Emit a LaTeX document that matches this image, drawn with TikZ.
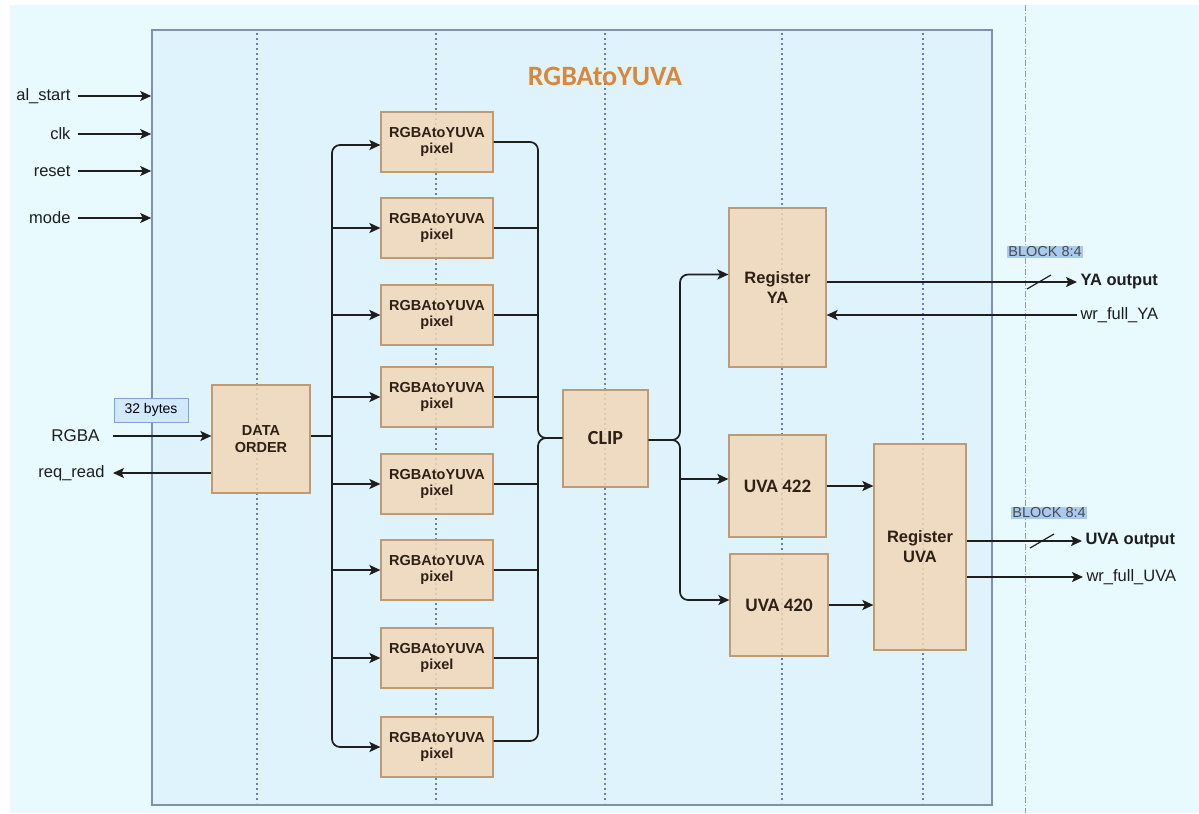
\documentclass[tikz,border=0pt]{standalone}
\usepackage{fontspec}
\setmainfont{Liberation Sans}
\newfontfamily\calibfont{Carlito}
\usetikzlibrary{arrows.meta}
\definecolor{pagebg}{HTML}{E8FAFD}
\definecolor{framefill}{HTML}{DEF3FC}
\definecolor{frameedge}{HTML}{8290AE}
\definecolor{gridink}{HTML}{6A7EB0}
\definecolor{boxfill}{HTML}{F3D6B9}
\definecolor{boxedge}{HTML}{BF9A74}
\definecolor{boxink}{HTML}{2E2015}
\definecolor{linkink}{HTML}{1E1E1E}
\definecolor{titleink}{HTML}{D9883A}
\definecolor{tagfill}{HTML}{D2E8FD}
\definecolor{tagedge}{HTML}{7FA3D4}
\definecolor{hilite}{HTML}{A9CAF0}

\begin{document}
\begin{tikzpicture}[x=1pt,y=-1pt,
  line/.style={draw=linkink,line width=1.7pt},
  arr/.style={line,-{Stealth[length=11pt,width=10pt,inset=2.5pt]}},
  blockbox/.style={draw=boxedge,fill=boxfill,fill opacity=.85,text opacity=1,
    line width=1.2pt,text=boxink,align=center,inner sep=0pt},
  pixbox/.style={blockbox,minimum width=112pt,minimum height=60pt,
    font=\fontsize{14.5}{15.5}\selectfont\bfseries},
  sig/.style={text=linkink,font=\fontsize{16.5}{18}\selectfont},
  gridline/.style={draw=gridink,line width=2pt,dash pattern=on 2pt off 3pt}]
        % page and frame
        \fill[white] (0,0) rectangle (1199,813);
        \fill[pagebg] (10,5) rectangle (1199,813);
        \draw[gridink!75,line width=1pt,dash pattern=on 6pt off 2pt on 1pt off 2pt]
          (1025,5) -- (1025,813);
        \node[draw=frameedge,fill=framefill,line width=1.6pt,minimum width=840pt,
          minimum height=775pt,inner sep=0pt] (frame) at (572,417.5) {};
        \foreach \x in {257,436,605,782,923}
          \draw[gridline] (\x,33) -- (\x,803);
        \node[text=titleink,font=\fontsize{28}{30}\calibfont\bfseries] (title) at (605,76) {RGBAtoYUVA};

        % blocks
        \node[blockbox,minimum width=98pt,minimum height=108pt,
          font=\fontsize{14.5}{17}\selectfont\bfseries] (order) at (261,439) {DATA\\ORDER};
        \foreach \i/\y in {1/142,2/228,3/315,4/397,5/484,6/570,7/658,8/747}
          \node[pixbox] (p\i) at (437,\y) {RGBAtoYUVA\\pixel};
        \node[blockbox,minimum width=85pt,minimum height=97pt,
          font=\fontsize{20}{22}\calibfont\bfseries] (clip) at (605.5,438.5) {CLIP};
        \node[blockbox,minimum width=97pt,minimum height=159pt,
          font=\fontsize{16.5}{20}\selectfont\bfseries] (rya) at (777.5,287.5) {Register\\YA};
        \node[blockbox,minimum width=97pt,minimum height=102pt,
          font=\fontsize{19}{21}\calibfont\bfseries] (u422) at (777.5,486) {UVA 422};
        \node[blockbox,minimum width=98pt,minimum height=102pt,
          font=\fontsize{19}{21}\calibfont\bfseries] (u420) at (779,605) {UVA 420};
        \node[blockbox,minimum width=92pt,minimum height=206pt,
          font=\fontsize{16.5}{20}\selectfont\bfseries] (ruva) at (920,547) {Register\\UVA};

        % control inputs
        \foreach \n/\t/\y in {alstart/al\_start/96,clk/clk/134,reset/reset/171,mode/mode/218}{
          \node[sig,anchor=east] (\n) at (74,\y) {\t};
          \draw[arr] ([xshift=4pt]\n.east) -- (\n.east -| frame.west);
        }

        % data in / out
        \node[sig,font=\fontsize{17}{19}\selectfont,anchor=east] (rgba) at (103,436) {RGBA};
        \draw[arr] ([xshift=10pt]rgba.east) -- (rgba.east -| order.west);
        \node[sig,anchor=east] (req) at (108,473) {req\_read};
        \draw[arr] (order.west |- req.east) -- ([xshift=5pt]req.east);
        \node[draw=tagedge,fill=tagfill,minimum width=74pt,minimum height=24pt,inner sep=0pt,
          font=\fontsize{14}{16}\selectfont] (bytes) at (151,410) {32 bytes};

        % fan out to pixel blocks
        \coordinate (lbus) at (332,436);
        \draw[line] (order.east |- lbus) -- (lbus);
        \draw[arr,rounded corners=8pt] (lbus) |- ([yshift=-3pt]p1.west);
        \draw[arr,rounded corners=8pt] (lbus) |- (p8.west);
        \foreach \i in {2,...,7}
          \draw[arr] (p\i.west -| lbus) -- (p\i.west);

        % gather into clip
        \coordinate (rbus) at (538,438);
        \draw[line,rounded corners=8pt] (p1.east) -| (rbus) -- (clip.west |- rbus);
        \draw[line,rounded corners=8pt] ([yshift=6pt]p8.east) -| (rbus) -- (clip.west |- rbus);
        \foreach \i in {2,...,7}
          \draw[line] (p\i.east) -- (p\i.east -| rbus);

        % clip to registers
        \coordinate (cbus) at (680,440);
        \draw[arr,rounded corners=8pt] (clip.east |- cbus) -- (cbus) |- ([yshift=13pt]rya.west);
        \draw[arr,rounded corners=8pt] (clip.east |- cbus) -- (cbus) |- ([yshift=5pt]u420.west);
        \draw[arr] ([yshift=7pt]u422.west -| cbus) -- ([yshift=7pt]u422.west);
        \draw[arr] (u422.east) -- (u422.east -| ruva.west);
        \draw[arr] (u420.east) -- (u420.east -| ruva.west);

        % outputs
        \node[sig,font=\fontsize{16.5}{18}\selectfont\bfseries,anchor=west] (yaout) at (1077,282) {YA output};
        \draw[arr] ([yshift=5.5pt]rya.east) -- (yaout.west);
        \draw[line,line width=1.2pt] ([xshift=-50pt,yshift=-7pt]yaout.west) -- ++(24,-14);
        \node[sig,anchor=west] (wrya) at (1077,315) {wr\_full\_YA};
        \draw[arr] (wrya.west) -- (wrya.west -| rya.east);
        \node[fill=hilite,inner sep=1pt,text=linkink!80,font=\fontsize{14.5}{16}\selectfont] (blkya) at (1045,252) {BLOCK 8:4};

        \node[sig,font=\fontsize{16.5}{18}\selectfont\bfseries,anchor=west] (uvaout) at (1082,541) {UVA output};
        \draw[arr] (ruva.east |- uvaout.west) -- (uvaout.west);
        \draw[line,line width=1.2pt] ([xshift=-52pt,yshift=-7pt]uvaout.west) -- ++(24,-14);
        \node[sig,anchor=west] (wruva) at (1083,577) {wr\_full\_UVA};
        \draw[arr] (ruva.east |- wruva.west) -- (wruva.west);
        \node[fill=hilite,inner sep=1pt,text=linkink!80,font=\fontsize{14.5}{16}\selectfont] (blkuva) at (1049,513) {BLOCK 8:4};
\end{tikzpicture}
\end{document}
